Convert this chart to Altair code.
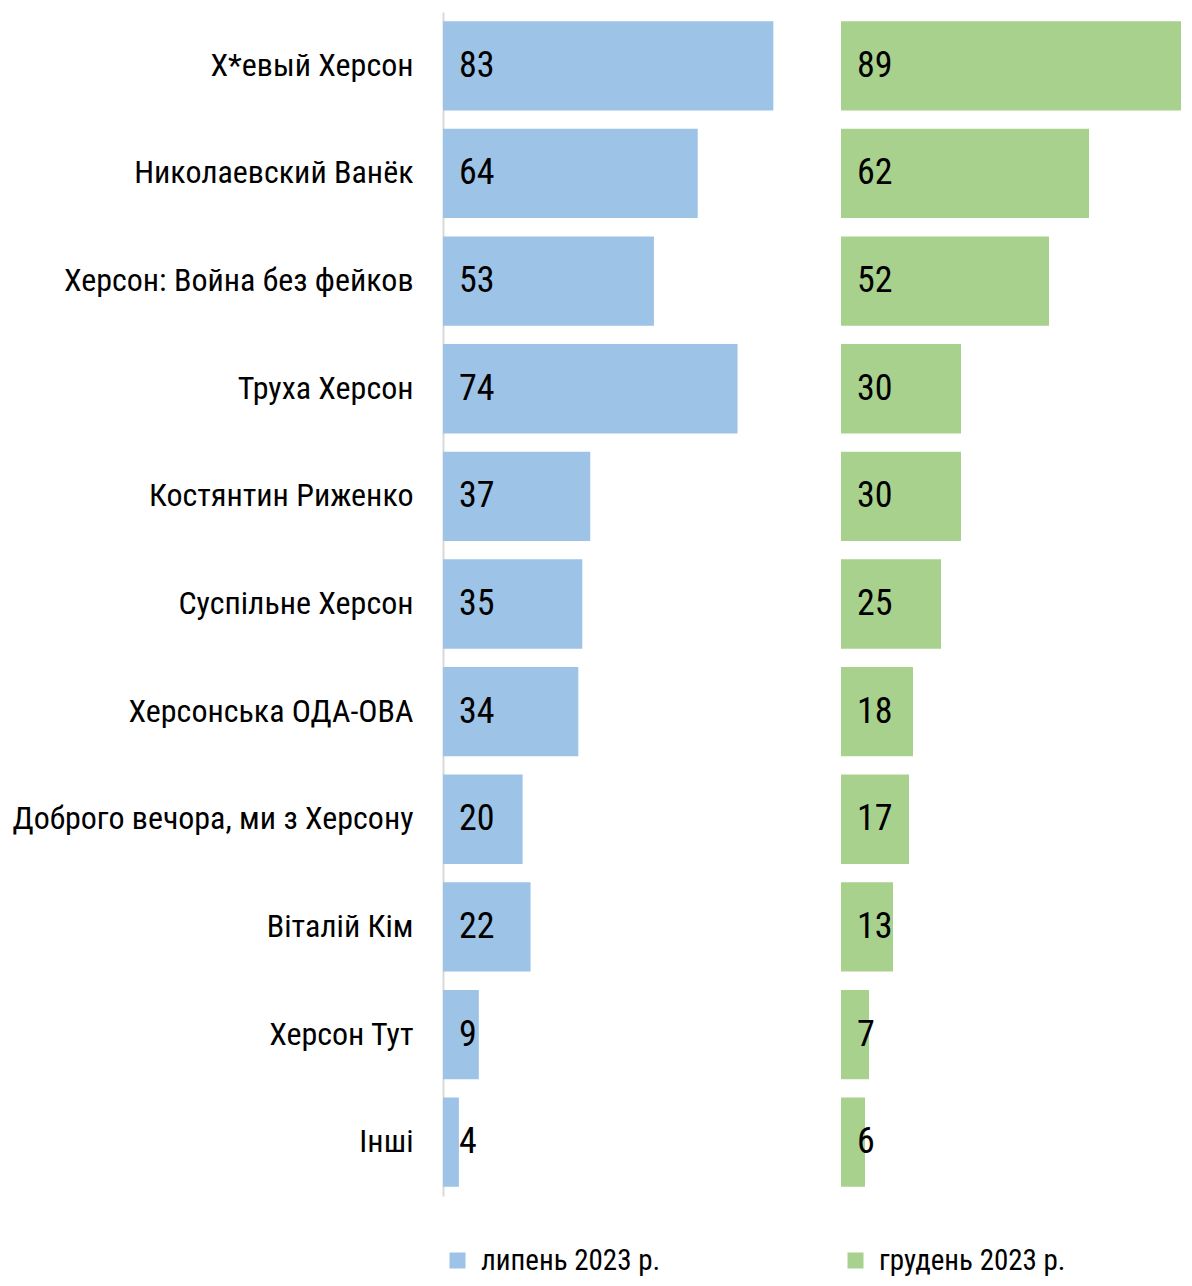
import altair as alt
import pandas as pd

categories = [
    "Х*евый Херсон",
    "Николаевский Ванёк",
    "Херсон: Война без фейков",
    "Труха Херсон",
    "Костянтин Риженко",
    "Суспільне Херсон",
    "Херсонська ОДА-ОВА",
    "Доброго вечора, ми з Херсону",
    "Віталій Кім",
    "Херсон Тут",
    "Інші",
]
july = [83, 64, 53, 74, 37, 35, 34, 20, 22, 9, 4]
december = [89, 62, 52, 30, 30, 25, 18, 17, 13, 7, 6]
series_names = ["липень 2023 р.", "грудень 2023 р."]
colors = ["#9DC3E6", "#A9D18E"]

FONT = "Roboto Condensed, Liberation Sans Narrow, DejaVu Sans Condensed, Roboto, sans-serif"

df1 = pd.DataFrame({"cat": categories, "value": july, "series": series_names[0]})
df2 = pd.DataFrame({"cat": categories, "value": december, "series": series_names[1]})


def panel(df, width, domain_max, show_axis, series, color):
    yscale = alt.Scale(domain=categories, paddingInner=0.17, paddingOuter=0.085)
    if show_axis:
        yax = alt.Axis(
            title=None, ticks=False, labelPadding=30, labelFontSize=32,
            labelFont=FONT, labelColor="#000000", labelLimit=500,
            domainColor="#D9D9D9", domainWidth=2, grid=False,
        )
    else:
        yax = None
    base = alt.Chart(df).encode(
        y=alt.Y("cat:N", scale=yscale, axis=yax, sort=categories),
    )
    bars = base.mark_bar(clip=True).encode(
        x=alt.X("value:Q", scale=alt.Scale(domain=[0, domain_max], nice=False, zero=True), axis=None),
        color=alt.Color(
            "series:N",
            scale=alt.Scale(domain=[series], range=[color]),
            legend=alt.Legend(
                title=None, orient="bottom", direction="horizontal",
                symbolType="square", symbolSize=256, symbolStrokeWidth=0,
                labelFontSize=29, labelFont=FONT, labelColor="#000000",
                offset=50, labelOffset=9, padding=0, labelLimit=400,
            ),
        ),
    )
    labels = base.mark_text(
        align="left", baseline="middle", dx=16, fontSize=36, font=FONT, color="#000000"
    ).encode(
        x=alt.value(0),
        text=alt.Text("value:Q"),
    )
    return alt.layer(bars, labels).properties(
        width=width, height=1184, view=alt.ViewBackground(stroke="transparent", strokeWidth=0)
    )


p1 = panel(df1, 398, 100, True, series_names[0], colors[0])
p2 = panel(df2, 340, 85, False, series_names[1], colors[1])

chart = (
    alt.hconcat(p1, p2, spacing=0)
    .resolve_scale(color="independent", y="shared")
    .configure_view(stroke="transparent", strokeWidth=0)
    .configure(padding={"left": 4, "top": 4, "right": 0, "bottom": 2})
)

chart.save("out.html", embed_options={"renderer": "svg", "actions": False})
